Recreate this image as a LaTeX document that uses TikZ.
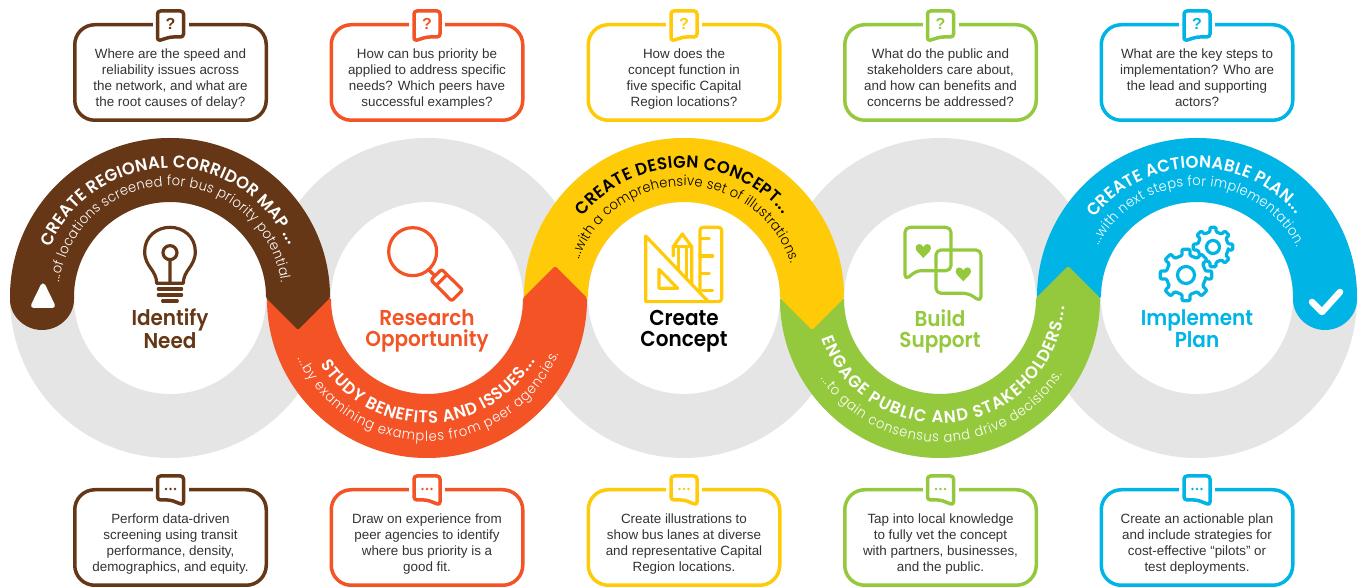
\documentclass[tikz,border=0pt]{standalone}
\usepackage{fontspec}
\usetikzlibrary{decorations.text}
\setmainfont{Liberation Sans}
\newfontfamily\gthin{Poppins Light}[FakeStretch=0.93]
\newfontfamily\gbold{Poppins SemiBold}[FakeStretch=0.96]
\newfontfamily\glabel{Poppins SemiBold}[FakeStretch=0.93]
\definecolor{cbrown}{HTML}{663716}
\definecolor{corange}{HTML}{F35325}
\definecolor{cyellow}{HTML}{FFCB08}
\definecolor{cgreen}{HTML}{95C93D}
\definecolor{cblue}{HTML}{00B5E6}
\definecolor{cgrey}{HTML}{E5E5E5}
\definecolor{ctext}{HTML}{333333}
\tikzset{
  boxframe/.style={draw=#1,line width=3.5pt,rounded corners=20pt,minimum width=191.5pt,minimum height=95.5pt,fill=white,inner sep=0pt},
  boxtext/.style={text=ctext,align=center,font=\fontsize{13.4}{16}\selectfont,inner sep=0pt},
  bubble/.style={draw=#1,line width=3.5pt,rounded corners=3pt,line join=round,fill=white},
  steplabel/.style={text=#1,align=center,font=\glabel\fontsize{21.5}{21}\selectfont,inner sep=0pt},
  iconline/.style={draw=#1,line width=3.2pt,line join=round,line cap=round},
}
\newcommand\twolines[2]{\rule{0pt}{16pt}#1\\#2\rule[-5pt]{0pt}{5pt}}
\newcommand\boxlines[1]{\rule{0pt}{11pt}#1\rule[-5pt]{0pt}{5pt}}
% cx, radius, start, end, colour, font, text
\newcommand\arctext[7]{\path[shift={(#1,290)},decorate,decoration={text along path,text align=fit to path,text={|#6\color{#5}|#7}}] (#3:#2pt) arc[start angle=#3,end angle=#4,radius=#2pt];}
\newcommand\qbox[4]{%
  \node[boxframe=#3] (q#1) at (#2,515.5) {};
  \fill[white] (#2-18,558) rectangle (#2+18,572);
  \draw[bubble=#3] (#2-13,547) -- (#2-13,577) -- (#2+13,577) -- (#2+13,551) -- (#2,551) -- cycle;
  \node[text=#3,font=\bfseries\fontsize{16}{16}\selectfont,inner sep=0pt] (qm#1) at (#2,564) {?};
  \node[boxtext] (qt#1) at (#2,508) {\boxlines{#4}};
}
\newcommand\abox[4]{%
  \node[boxframe=#3] (a#1) at (#2,50.5) {};
  \fill[white] (#2-18,93) rectangle (#2+18,107);
  \draw[bubble=#3] (#2+13,83) -- (#2+13,112) -- (#2-13,112) -- (#2-13,88) -- (#2,88) -- cycle;
  \fill[#3] (#2-4.5,99) circle[radius=1.3pt] (#2,99) circle[radius=1.3pt] (#2+4.5,99) circle[radius=1.3pt];
  \node[boxtext] (at#1) at (#2,43) {\boxlines{#4}};
}
\newcommand\gear[6]{% cx cy Router Rroot rring colour
  \begin{scope}[shift={(#1,#2)}]
  \draw[iconline=#6,fill=white,rounded corners=1.2pt] (-11:#4pt) \foreach \i in {0,...,7} { -- ({\i*45-11}:#4pt) -- ({\i*45-9}:#3pt) -- ({\i*45+9}:#3pt) -- ({\i*45+11}:#4pt) } -- cycle;
  \draw[iconline=#6] (0,0) circle[radius=#5pt];
  \end{scope}
}
\newcommand\heart[3]{\fill[#3,shift={(#1,#2)}] (0,22) .. controls (-10,10) and (-23,2) .. (-23,-8) .. controls (-23,-22) and (-6,-24) .. (0,-11) .. controls (6,-24) and (23,-22) .. (23,-8) .. controls (23,2) and (10,10) .. (0,22) -- cycle;}
\begin{document}
\begin{tikzpicture}[x=1pt,y=1pt]
\useasboundingbox (0,0) rectangle (1362,588);
% grey rings
\foreach \c in {170,427,684,940,1197}
  \fill[cgrey,even odd rule] (\c,290) circle[radius=160pt] (\c,290) circle[radius=96pt];
% bands
\fill[cblue,rounded corners=1.5pt] (1037,290) arc[start angle=180,end angle=0,radius=160pt] arc[start angle=0,end angle=-180,radius=32pt] arc[start angle=0,end angle=180,radius=96pt] -- cycle;
\fill[cgreen,rounded corners=1.5pt] (780,290) arc[start angle=180,end angle=360,radius=160pt] -- (1068,322) -- (1036,290) arc[start angle=360,end angle=180,radius=96pt] -- cycle;
\fill[cyellow,rounded corners=1.5pt] (524,290) arc[start angle=180,end angle=0,radius=160pt] -- (812,258) -- (780,290) arc[start angle=0,end angle=180,radius=96pt] -- cycle;
\fill[corange,rounded corners=1.5pt] (267,290) arc[start angle=180,end angle=360,radius=160pt] -- (555,322) -- (523,290) arc[start angle=360,end angle=180,radius=96pt] -- cycle;
\fill[cbrown,rounded corners=1.5pt] (10,290) arc[start angle=180,end angle=0,radius=160pt] -- (298,258) -- (266,290) arc[start angle=0,end angle=180,radius=96pt] arc[start angle=0,end angle=-180,radius=32pt] -- cycle;
% band ends
\draw[white,line width=5pt,line join=round,fill=white] (43,302) -- (33.5,282.5) -- (52.5,282.5) -- cycle;
\draw[white,line width=6.5pt,line cap=round,line join=round] (1312,286) -- (1322,276) -- (1340,296);
% arc texts
\arctext{170}{130}{157}{24}{white}{\gbold\fontsize{17}{17}\selectfont}{CREATE REGIONAL CORRIDOR MAP ...}
\arctext{170}{112}{172}{8}{white}{\gthin\fontsize{14}{15}\selectfont}{...of locations screened for bus priority potential.}
\arctext{427}{125}{212}{330}{white}{\gbold\fontsize{17}{17}\selectfont}{STUDY BENEFITS AND ISSUES...}
\arctext{427}{143}{205}{337}{white}{\gthin\fontsize{14}{15}\selectfont}{...by examining examples from peer agencies.}
\arctext{684}{130}{141}{40}{black}{\gbold\fontsize{17}{17}\selectfont}{CREATE DESIGN CONCEPT...}
\arctext{684}{112}{160}{18}{black}{\gthin\fontsize{14}{15}\selectfont}{...with a comprehensive set of illustrations.}
\arctext{940}{125}{199}{356}{white}{\gbold\fontsize{17}{17}\selectfont}{ENGAGE PUBLIC AND STAKEHOLDERS...}
\arctext{940}{144}{214}{328}{white}{\gthin\fontsize{14}{15}\selectfont}{...to gain consensus and drive decisions.}
\arctext{1197}{130}{142}{40}{white}{\gbold\fontsize{17}{17}\selectfont}{CREATE ACTIONABLE PLAN...}
\arctext{1197}{112}{152}{27}{white}{\gthin\fontsize{14}{15}\selectfont}{...with next steps for implementation.}
% centre labels
\node[steplabel=cbrown] (l1) at (170,257) {\twolines{Identify}{Need}};
\node[steplabel=corange] (l2) at (427,257) {\twolines{Research}{Opportunity}};
\node[steplabel=black] (l3) at (684,257) {\twolines{Create}{Concept}};
\node[steplabel=cgreen] (l4) at (940,257) {\twolines{Build}{Support}};
\node[steplabel=cblue] (l5) at (1197,257) {\twolines{Implement}{Plan}};
% bulb
\begin{scope}[shift={(0,468)},x=0.3333pt,y=-0.3333pt]
\draw[iconline=cbrown] (470,490) .. controls (470,450) and (434,440) .. (434,395) .. controls (434,350) and (470,322) .. (510,322) .. controls (550,322) and (586,350) .. (586,395) .. controls (586,440) and (550,450) .. (550,490) -- cycle;
\draw[iconline=cbrown] (510,398) circle[radius=7pt] (510,420) -- (510,490);
\draw[iconline=cbrown] (475,507) -- (545,507) (475,525) -- (545,525) (488,543) -- (532,543);
\end{scope}
% magnifier
\begin{scope}[shift={(250,388)},x=0.3333pt,y=-0.3333pt]
\draw[iconline=corange] (488,155) circle[radius=24pt];
\draw[iconline=corange] (535,208) -- (552,225);
\draw[iconline=corange,rounded corners=2pt] (543,240) -- (575,208) -- (638,270) -- (605,303) -- cycle;
\draw[iconline=corange] (560,255) -- (590,225);
\end{scope}
% triangle, pencil, ruler
\begin{scope}[shift={(510,458)},x=0.3333pt,y=-0.3333pt]
\draw[iconline=cyellow] (407,318) -- (407,515) -- (595,515) -- cycle;
\draw[iconline=cyellow] (447,418) -- (447,475) -- (503,475) -- cycle;
\draw[iconline=cyellow] (490,378) -- (490,350) -- (517,312) -- (545,350) -- (545,463);
\draw[iconline=cyellow] (490,350) -- (545,350) (505,355) -- (505,418) (530,355) -- (530,445);
\draw[iconline=cyellow,rounded corners=3pt] (570,488) -- (570,292) -- (635,292) -- (635,515) -- (595,515);
\draw[iconline=cyellow] (570,325) -- (598,325) (570,378) -- (608,378) (570,430) -- (598,430) (578,482) -- (608,482);
\end{scope}
% speech bubbles
\begin{scope}[shift={(770,388)},x=0.3333pt,y=-0.3333pt]
\draw[iconline=cgreen,rounded corners=5pt] (405,240) -- (405,82) -- (543,82) -- (543,212) -- (440,212) -- cycle;
\draw[iconline=cgreen,rounded corners=5pt] (633,305) -- (633,150) -- (498,150) -- (498,280) -- (595,280) -- cycle;
\heart{460}{152}{cgreen}
\heart{580}{222}{cgreen}
\end{scope}
% gears
\gear{1213}{341}{20}{15.5}{6.5}{cblue}
\gear{1186}{313}{26}{20}{8.5}{cblue}
% question boxes
\qbox{1}{170.5}{cbrown}{Where are the speed and\\reliability issues across\\the network, and what are\\the root causes of delay?}
\qbox{2}{427}{corange}{How can bus priority be\\applied to address specific\\needs? Which peers have\\successful examples?}
\qbox{3}{684}{cyellow}{How does the\\concept function in\\five specific Capital\\Region locations?}
\qbox{4}{940.5}{cgreen}{What do the public and\\stakeholders care about,\\and how can benefits and\\concerns be addressed?}
\qbox{5}{1197}{cblue}{What are the key steps to\\implementation? Who are\\the lead and supporting\\actors?}
% answer boxes
\abox{1}{170.5}{cbrown}{Perform data-driven\\screening using transit\\performance, density,\\demographics, and equity.}
\abox{2}{427}{corange}{Draw on experience from\\peer agencies to identify\\where bus priority is a\\good fit.}
\abox{3}{684}{cyellow}{Create illustrations to\\show bus lanes at diverse\\and representative Capital\\Region locations.}
\abox{4}{940.5}{cgreen}{Tap into local knowledge\\to fully vet the concept\\with partners, businesses,\\and the public.}
\abox{5}{1197}{cblue}{Create an actionable plan\\and include strategies for\\cost-effective “pilots” or\\test deployments.}
\end{tikzpicture}
\end{document}
